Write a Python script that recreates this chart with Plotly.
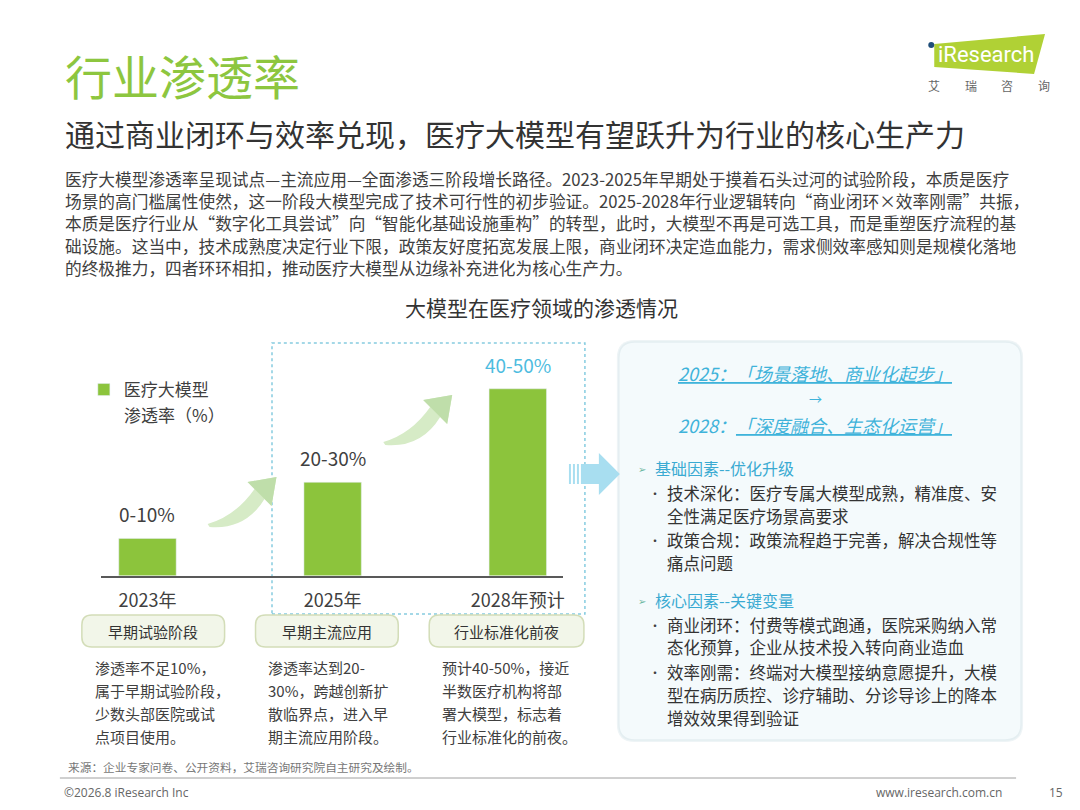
import plotly.graph_objects as go

# the page keeps the browser's 8px body margin, so the figure is drawn 8px in
PAGE_W, PAGE_H = 1080, 810
OFF = 8
W, H = PAGE_W - 2 * OFF, PAGE_H - 2 * OFF
FONT = "Noto Sans CJK SC"

# chart data
years = ["2023年", "2025年", "2028年预计"]
rate = [10, 25, 50]
rate_text = ["0-10%", "20-30%", "40-50%"]
rate_color = ["#404040", "#404040", "#4DBCE0"]
series_name = "医疗大模型"
series_unit = "渗透率（%）"

stages = ["早期试验阶段", "早期主流应用", "行业标准化前夜"]
stage_notes = [
    ["渗透率不足10%，", "属于早期试验阶段，", "少数头部医院或试", "点项目使用。"],
    ["渗透率达到20-", "30%，跨越创新扩", "散临界点，进入早", "期主流应用阶段。"],
    ["预计40-50%，接近", "半数医疗机构将部", "署大模型，标志着", "行业标准化的前夜。"],
]

intro = [
    "医疗大模型渗透率呈现试点—主流应用—全面渗透三阶段增长路径。2023-2025年早期处于摸着石头过河的试验阶段，本质是医疗",
    "场景的高门槛属性使然，这一阶段大模型完成了技术可行性的初步验证。2025-2028年行业逻辑转向“商业闭环×效率刚需”共振，",
    "本质是医疗行业从“数字化工具尝试”向“智能化基础设施重构”的转型，此时，大模型不再是可选工具，而是重塑医疗流程的基",
    "础设施。这当中，技术成熟度决定行业下限，政策友好度拓宽发展上限，商业闭环决定造血能力，需求侧效率感知则是规模化落地",
    "的终极推力，四者环环相扣，推动医疗大模型从边缘补充进化为核心生产力。",
]

panel_lines = [
    ("h", "基础因素--优化升级"),
    ("b", "技术深化：医疗专属大模型成熟，精准度、安"),
    ("c", "全性满足医疗场景高要求"),
    ("b", "政策合规：政策流程趋于完善，解决合规性等"),
    ("c", "痛点问题"),
    ("h", "核心因素--关键变量"),
    ("b", "商业闭环：付费等模式跑通，医院采购纳入常"),
    ("c", "态化预算，企业从技术投入转向商业造血"),
    ("b", "效率刚需：终端对大模型接纳意愿提升，大模"),
    ("c", "型在病历质控、诊疗辅助、分诊导诊上的降本"),
    ("c", "增效效果得到验证"),
]


def X(px):
    return (px - OFF) / W


def Y(py):
    return 1 - (py - OFF) / H


def txt(x, y, s, size, color, anchor="left", **kw):
    return dict(x=X(x), y=Y(y), xref="paper", yref="paper", text=s, showarrow=False,
                xanchor=anchor, yanchor="middle", font=dict(size=size, color=color, family=FONT), **kw)


def poly(pts):
    return "M " + " L ".join(f"{X(a):.5f},{Y(b):.5f}" for a, b in pts) + " Z"


def rrect(x0, y0, x1, y1, r):
    p = lambda a, b: f"{X(a):.5f},{Y(b):.5f}"
    return (f"M {p(x0 + r, y0)} L {p(x1 - r, y0)} Q {p(x1, y0)} {p(x1, y0 + r)} "
            f"L {p(x1, y1 - r)} Q {p(x1, y1)} {p(x1 - r, y1)} L {p(x0 + r, y1)} "
            f"Q {p(x0, y1)} {p(x0, y1 - r)} L {p(x0, y0 + r)} Q {p(x0, y0)} {p(x0 + r, y0)} Z")


def swoosh(tx, ty):
    p = lambda a, b: f"{X(tx + a):.5f},{Y(ty + b):.5f}"
    return (f"M {p(0, 0)} Q {p(28, -8)} {p(47, -35)} L {p(40, -42)} L {p(69, -47)} "
            f"L {p(64, -18)} L {p(57, -25)} Q {p(38, 6)} {p(2, 3)} Z")


fig = go.Figure()
fig.add_trace(go.Bar(x=years, y=rate, width=0.31, marker_color="#8CC43C",
                     name=series_name, hoverinfo="skip"))

shapes = []
# right panel
shapes.append(dict(type="path", path=rrect(618, 340, 1025, 742, 18), xref="paper", yref="paper",
                   fillcolor="#EEF4F6", line=dict(width=0), layer="below"))
shapes.append(dict(type="path", path=rrect(620, 342, 1023, 740, 16), xref="paper", yref="paper",
                   fillcolor="#F4FAFC", line=dict(color="#E4EEF1", width=1.5), layer="below"))
# dotted frame round 2025 / 2028
shapes.append(dict(type="rect", xref="paper", yref="paper", x0=X(272.5), x1=X(586), y0=Y(614), y1=Y(343),
                   line=dict(color="#86CCE0", width=1.5, dash="dot"), layer="below"))
# growth arrows
for tx, ty in [(208, 524), (384, 442)]:
    shapes.append(dict(type="path", path=swoosh(tx, ty), xref="paper", yref="paper",
                       fillcolor="#D6EBC6", line=dict(width=0), layer="below"))
    shapes.append(dict(type="path", path=poly([(tx + 40, ty - 42), (tx + 69, ty - 47), (tx + 64, ty - 18)]),
                       xref="paper", yref="paper", fillcolor="#BFDEAA", line=dict(width=0), layer="below"))
# blue arrow to the panel
for sx in [570, 574, 578]:
    shapes.append(dict(type="rect", xref="paper", yref="paper", x0=X(sx), x1=X(sx + 2), y0=Y(484), y1=Y(464),
                       fillcolor="#A8DEF0", line=dict(width=0)))
shapes.append(dict(type="rect", xref="paper", yref="paper", x0=X(582), x1=X(601), y0=Y(484), y1=Y(464),
                   fillcolor="#A8DEF0", line=dict(width=0)))
shapes.append(dict(type="path", path=poly([(600, 453), (621, 474), (600, 495)]), xref="paper", yref="paper",
                   fillcolor="#A8DEF0", line=dict(width=0)))
# stage tabs
for x0, x1 in [(82, 225), (256, 399), (430, 585)]:
    shapes.append(dict(type="path", path=rrect(x0, 615, x1, 647, 10), xref="paper", yref="paper",
                       fillcolor="#F2F6E9", line=dict(color="#D3DDB8", width=1.5)))
# logo
shapes.append(dict(type="path", path=poly([(936, 44), (1047, 34), (1036, 74), (936, 67)]),
                   xref="paper", yref="paper", fillcolor="#B0D135", line=dict(width=0)))
shapes.append(dict(type="circle", xref="paper", yref="paper", x0=X(930), x1=X(936), y0=Y(48), y1=Y(42),
                   fillcolor="#1F4E79", line=dict(width=0)))
# footer rule
shapes.append(dict(type="line", xref="paper", yref="paper", x0=X(60), x1=X(1018), y0=Y(778), y1=Y(778),
                   line=dict(color="#A0A0A0", width=1)))

ann = []
ann.append(txt(63, 75, "行业渗透率", 47, "#8DC63F"))
ann.append(txt(63, 133, "通过商业闭环与效率兑现，医疗大模型有望跃升为行业的核心生产力", 30, "#333333"))
ann.append(txt(938, 55, "iResearch", 22, "#FFFFFF", font_family="Roboto"))
for i, ch in enumerate("艾瑞咨询"):
    ann.append(txt(936 + i * 36.5, 86, ch, 12, "#666666", anchor="center"))
for i, line in enumerate(intro):
    ann.append(txt(63, 178.5 + i * 22.4, line, 16.7, "#404040"))
ann.append(txt(543, 307, "大模型在医疗领域的渗透情况", 21, "#333333", anchor="center"))
# second line of the legend label
ann.append(txt(122.5, 415, series_unit, 17, "#404040"))

# value labels above bars
for yr, v, t, c in zip(years, rate, rate_text, rate_color):
    ann.append(dict(x=yr, y=v, xref="x", yref="y", text=t, showarrow=False, yanchor="bottom", yshift=9,
                    font=dict(size=19, color=c, family=FONT)))

# stage tabs and notes
for cx, nx, name, notes in zip([153.5, 327.5, 507.5], [92.7, 266.6, 440.5], stages, stage_notes):
    ann.append(txt(cx, 631, name, 15, "#333333", anchor="center"))
    for j, line in enumerate(notes):
        ann.append(txt(nx, 667 + j * 23, line, 15, "#404040"))

# right panel
ann.append(txt(817, 373, "<i><u>2025：「场景落地、商业化起步」</u></i>", 18, "#3FB3DA", anchor="center"))
ann.append(txt(817, 398, "→", 13, "#3FB3DA", anchor="center"))
ann.append(txt(817, 425, "<i>2028：<u>「深度融合、生态化运营」</u></i>", 18, "#3FB3DA", anchor="center"))
panel_y = [468, 493, 515.5, 540, 563, 600, 625, 647, 672, 695, 718]
for (kind, line), y in zip(panel_lines, panel_y):
    if kind == "h":
        ann.append(txt(637, y, "➢", 10, "#6DB7A0"))
        ann.append(txt(654, y, line, 16, "#3AAAD2"))
    else:
        if kind == "b":
            ann.append(txt(648, y, "•", 12, "#404040"))
        ann.append(txt(666, y, line, 16.5, "#333333"))

# footer
ann.append(txt(66, 766, "来源：企业专家问卷、公开资料，艾瑞咨询研究院自主研究及绘制。", 11.7, "#777777"))
ann.append(txt(62, 792, "©2026.8 iResearch Inc", 12, "#666666", font_family="Open Sans"))
ann.append(txt(1006, 792, "www.iresearch.com.cn", 12, "#666666", anchor="right", font_family="Open Sans"))
ann.append(txt(1058, 792, "15", 12, "#666666", anchor="center", font_family="Open Sans"))

fig.update_layout(
    width=W, height=H,
    margin=dict(l=0, r=0, t=0, b=0),
    paper_bgcolor="white", plot_bgcolor="rgba(0,0,0,0)",
    font=dict(family=FONT, color="#404040"),
    showlegend=True,
    legend=dict(x=X(84), y=Y(372), xanchor="left", yanchor="top", valign="top",
                bgcolor="rgba(0,0,0,0)", font=dict(size=17, color="#404040")),
    xaxis=dict(domain=[X(101), X(564)], range=[-0.252, 2.244], showline=True, linecolor="#595959",
               linewidth=2, ticks="", showgrid=False, zeroline=False, ticklabelstandoff=8,
               tickfont=dict(size=18, color="#404040"), fixedrange=True),
    yaxis=dict(domain=[Y(575.8), Y(351.4)], range=[0, 60], visible=False, fixedrange=True),
    shapes=shapes,
    annotations=ann,
    hovermode=False,
)

fig.write_html("out.html")
